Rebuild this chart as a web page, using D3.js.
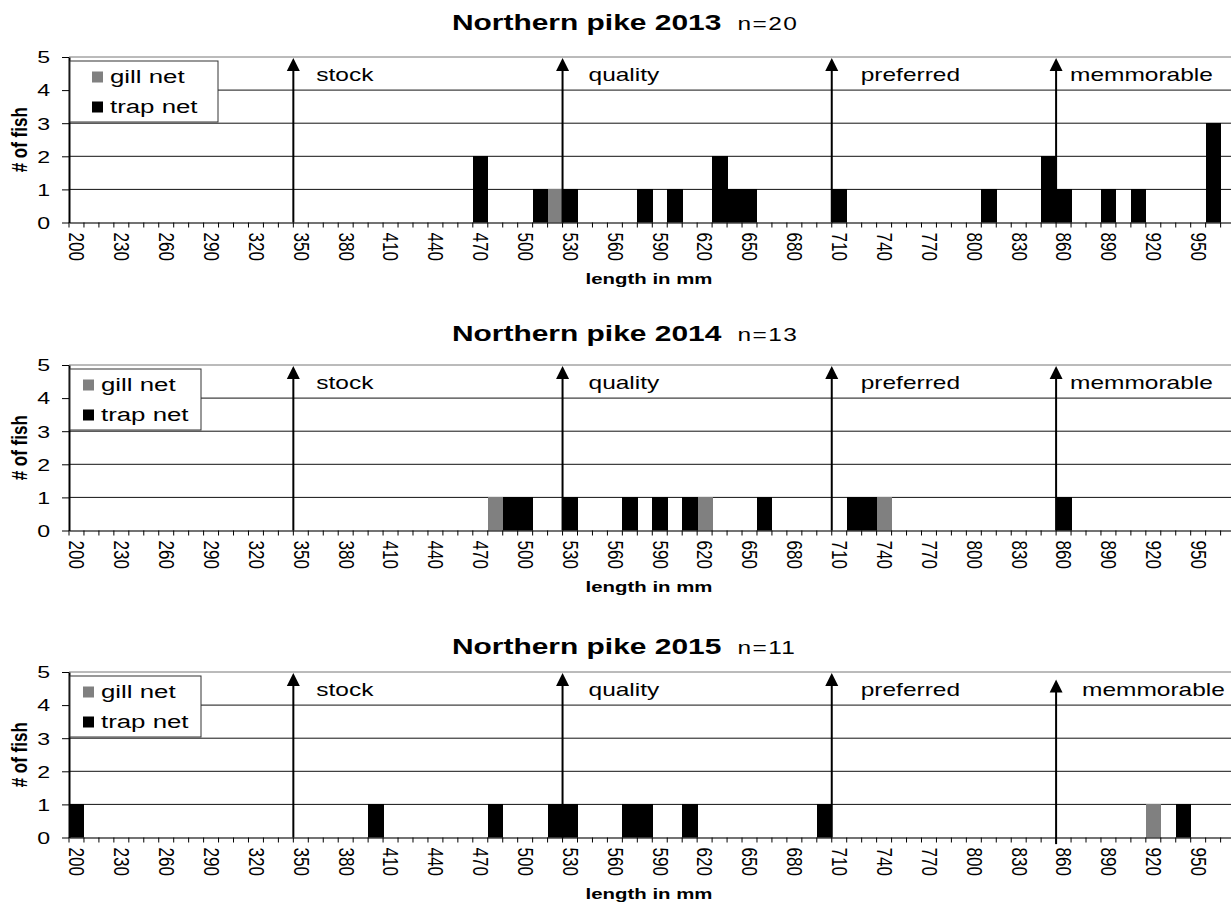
<!DOCTYPE html>
<html>
<head>
<meta charset="utf-8">
<script src="https://cdn.jsdelivr.net/npm/d3@7"></script>
<style>
  html, body { margin: 0; padding: 0; background: #fff; }
  svg { display: block; font-family: "Liberation Sans", Arial, Helvetica, sans-serif; }
</style>
</head>
<body>
<svg id="chart" width="1231" height="903"></svg>
<script>
// ---- data -------------------------------------------------------------
const years = [2013, 2014, 2015];
const sampleSizes = [20, 13, 11];

// 10 mm length bins (lower bound of each bin), labelled every 30 mm
const tickLabels = [200, 230, 260, 290, 320, 350, 380, 410, 440, 470, 500, 530, 560,
                    590, 620, 650, 680, 710, 740, 770, 800, 830, 860, 890, 920, 950];

// [bin, number of fish]
const gillNet2013 = [[520, 1]];
const trapNet2013 = [[470, 2], [510, 1], [530, 1], [580, 1], [600, 1], [630, 2], [640, 1],
                     [650, 1], [710, 1], [810, 1], [850, 2], [860, 1], [890, 1], [910, 1], [960, 3]];

const gillNet2014 = [[480, 1], [620, 1], [740, 1]];
const trapNet2014 = [[490, 1], [500, 1], [530, 1], [570, 1], [590, 1], [610, 1], [660, 1],
                     [720, 1], [730, 1], [860, 1]];

const gillNet2015 = [[920, 1]];
const trapNet2015 = [[200, 1], [400, 1], [480, 1], [520, 1], [530, 1], [570, 1], [580, 1],
                     [610, 1], [700, 1], [940, 1]];

// PSD length categories (mm)
const psdNames = ["stock", "quality", "preferred", "memmorable"];
const psdLengths = [350, 530, 710, 860];

const gearNames = ["gill net", "trap net"];
const gearColors = ["#808080", "#000000"];

// ---- layout -------------------------------------------------------------
const W = 1231, H = 903;
const svg = d3.select("#chart");
const SX = 1.36;             // horizontal text stretch
const plotLeft = 69;
const binW = 14.956;
const bins = d3.range(200, 980, 10);
const x = d3.scaleBand().domain(bins).range([plotLeft, plotLeft + bins.length * binW]).padding(0);

const panels = [
  { top: 57,  titleY: 30,  gill: gillNet2013, trap: trapNet2013,
    legend: { x0: 70, x1: 218, sw: 92, tx: 110 }, memOffset: 0, memLabelDx: 0 },
  { top: 365, titleY: 341, gill: gillNet2014, trap: trapNet2014,
    legend: { x0: 70, x1: 201, sw: 83, tx: 101 }, memOffset: 0, memLabelDx: 0 },
  { top: 672, titleY: 654, gill: gillNet2015, trap: trapNet2015,
    legend: { x0: 70, x1: 201, sw: 83, tx: 101 }, memOffset: 0.2, memLabelDx: 12 }
];
const plotH = 165.5;
const labelDx = [23, 26, 29, 14];

panels.forEach((p, i) => {
  const g = svg.append("g");
  const top = p.top, bottom = top + plotH;
  const y = d3.scaleLinear().domain([0, 5]).range([bottom, top]);

  // table of counts per bin
  const gillMap = new Map(p.gill), trapMap = new Map(p.trap);
  const table = bins.map(b => ({ bin: b, gill: gillMap.get(b) || 0, trap: trapMap.get(b) || 0 }));
  const stacked = d3.stack().keys(["gill", "trap"])(table);

  // title
  const title = g.append("text")
    .attr("transform", `translate(452,${p.titleY}) scale(${SX},1)`)
    .attr("font-size", 22).attr("font-weight", "bold").attr("fill", "#000");
  title.append("tspan").text(`Northern pike ${years[i]}`);
  title.append("tspan").attr("dx", 12).attr("font-size", 18).attr("font-weight", "normal")
    .attr("letter-spacing", 1)
    .text(`n=${sampleSizes[i]}`);

  // horizontal gridlines
  g.append("g").selectAll("line").data(y.ticks(5).filter(v => v > 0)).join("line")
    .attr("x1", plotLeft).attr("x2", W)
    .attr("y1", d => y(d)).attr("y2", d => y(d))
    .attr("stroke", v => v === 5 ? "#777" : "#111").attr("stroke-width", 1);

  // bars
  g.append("g").attr("shape-rendering", "crispEdges")
    .selectAll("g").data(stacked).join("g")
    .attr("fill", (s, k) => gearColors[k])
    .selectAll("rect").data(s => s.filter(d => d[1] > d[0])).join("rect")
    .attr("x", d => x(d.data.bin))
    .attr("width", x.bandwidth() + 0.5)
    .attr("y", d => y(d[1]))
    .attr("height", d => y(d[0]) - y(d[1]));

  // x axis
  const xAxis = d3.axisBottom(x).tickValues(tickLabels).tickSize(0).tickSizeOuter(0);
  const xg = g.append("g").attr("transform", `translate(0,${bottom})`).call(xAxis);
  xg.select(".domain").attr("stroke", "#444").attr("stroke-width", 1.5);
  xg.selectAll(".tick text")
    .attr("y", null).attr("dy", null)
    .attr("text-anchor", "start").attr("dominant-baseline", "central")
    .attr("font-size", 17).attr("fill", "#000")
    .attr("transform", `translate(0,10) scale(1.25,1) rotate(90)`);
  // tick marks at bin boundaries
  g.append("g").selectAll("line").data(bins).join("line")
    .attr("x1", d => x(d)).attr("x2", d => x(d))
    .attr("y1", bottom).attr("y2", bottom + 5)
    .attr("stroke", "#000").attr("stroke-width", 1);

  // y axis
  const yAxis = d3.axisLeft(y).ticks(5).tickSize(7).tickSizeOuter(0).tickFormat(d3.format("d"));
  const yg = g.append("g").attr("transform", `translate(${plotLeft},0)`).call(yAxis);
  yg.select(".domain").attr("stroke", "#000").attr("stroke-width", 2);
  yg.selectAll(".tick line").attr("stroke", "#000");
  yg.selectAll(".tick text")
    .attr("x", null).attr("dy", null)
    .attr("text-anchor", "end").attr("dominant-baseline", "central")
    .attr("font-size", 17).attr("fill", "#000")
    .attr("transform", `translate(-19,0) scale(${SX},1)`);

  // axis titles
  g.append("text")
    .attr("transform", `translate(20,${(top + bottom) / 2}) scale(1.25,1) rotate(-90)`)
    .attr("text-anchor", "middle").attr("dominant-baseline", "central")
    .attr("font-size", 17).attr("font-weight", "bold").attr("fill", "#000")
    .text("# of fish");
  g.append("text")
    .attr("transform", `translate(649,${bottom + 61.5}) scale(${SX},1)`)
    .attr("text-anchor", "middle")
    .attr("font-size", 15).attr("font-weight", "bold").attr("fill", "#000")
    .text("length in mm");

  // legend
  const lg = g.append("g");
  lg.append("rect")
    .attr("x", p.legend.x0).attr("y", top + 4)
    .attr("width", p.legend.x1 - p.legend.x0).attr("height", 61)
    .attr("fill", "#fff").attr("stroke", "#333").attr("stroke-width", 1);
  gearNames.forEach((name, k) => {
    const cy = top + 20 + k * 30;
    lg.append("rect").attr("x", p.legend.sw).attr("y", cy - 5.5)
      .attr("width", 11).attr("height", 11).attr("fill", gearColors[k]);
    lg.append("text")
      .attr("transform", `translate(${p.legend.tx},${cy + 6}) scale(${SX},1)`)
      .attr("font-size", 19).attr("fill", "#000").text(name);
  });

  // PSD category arrows
  psdLengths.forEach((len, k) => {
    const off = k === 3 ? p.memOffset : 0;
    const ax = x(len);
    const y0 = y(0 - off), y1 = y(5 - off);
    g.append("line")
      .attr("x1", ax).attr("x2", ax)
      .attr("y1", y0).attr("y2", y1 + 10)
      .attr("stroke", "#000").attr("stroke-width", 2);
    g.append("path")
      .attr("d", `M${ax},${y1 + 1} L${ax - 6.5},${y1 + 14} L${ax + 6.5},${y1 + 14} Z`)
      .attr("fill", "#000");
    g.append("text")
      .attr("transform", `translate(${ax + labelDx[k] + (k === 3 ? p.memLabelDx : 0)},${top + 24}) scale(${SX},1)`)
      .attr("font-size", 18).attr("fill", "#000")
      .text(psdNames[k]);
  });
});
</script>
</body>
</html>
